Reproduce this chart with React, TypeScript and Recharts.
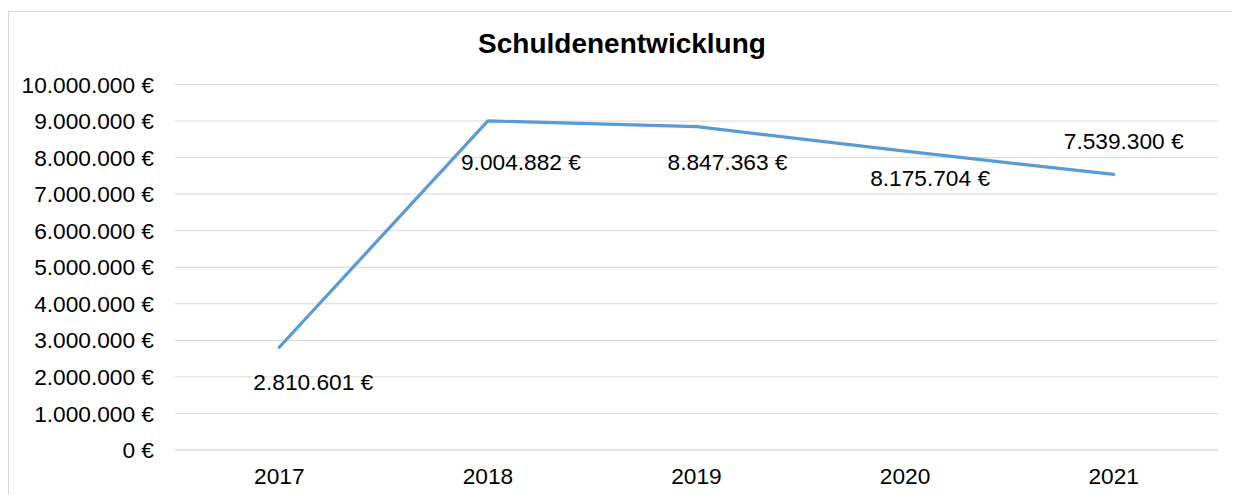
import React from 'react';
import { LineChart, Line, XAxis, YAxis, CartesianGrid, LabelList } from 'recharts';

const years = ['2017', '2018', '2019', '2020', '2021'];
const debt = [2810601, 9004882, 8847363, 8175704, 7539300];
const yTicks = [0, 1000000, 2000000, 3000000, 4000000, 5000000, 6000000, 7000000, 8000000, 9000000, 10000000];
const title = 'Schuldenentwicklung';

// label placement relative to each point (layout, not data)
const labelOffsets: [number, number][] = [
  [34, 35],
  [33, 41],
  [31, 35],
  [25, 27],
  [10, -33],
];

const data = years.map((y, i) => ({ year: y, value: debt[i] }));

const FONT = '"Liberation Sans", Arial, sans-serif';
const fmt = (v: number) => v.toLocaleString('de-DE') + ' €';

const renderLabel = (props: any) => {
  const { x, y, index, value } = props;
  const [dx, dy] = labelOffsets[index] || [0, 0];
  return (
    <text
      x={x + dx}
      y={y + dy}
      textAnchor="middle"
      dominantBaseline="central"
      fontFamily={FONT}
      fontSize={22.7}
      fill="#000"
    >
      {fmt(Number(value))}
    </text>
  );
};

export default function App() {
  return (
    <div style={{ paddingTop: 3 }}>
      <div
        style={{
          position: 'relative',
          width: 1227,
          height: 490,
          border: '1px solid #d9d9d9',
          background: '#fff',
        }}
      >
        <svg
          width={1227}
          height={70}
          style={{ position: 'absolute', left: 0, top: 0 }}
        >
          <text
            x={613}
            y={41}
            textAnchor="middle"
            fontFamily={FONT}
            fontSize={28}
            fontWeight="bold"
            fill="#000"
          >
            {title}
          </text>
        </svg>
        <LineChart
          width={1227}
          height={483}
          data={data}
          margin={{ top: 72.5, right: 18, bottom: 0, left: 0 }}
        >
          <CartesianGrid vertical={false} stroke="#d9d9d9" strokeWidth={1} />
          <XAxis
            dataKey="year"
            scale="band"
            axisLine={{ stroke: '#d9d9d9' }}
            tickLine={false}
            tickSize={6}
            tickMargin={12}
            height={45}
            tick={{ fontFamily: FONT, fontSize: 22.7, fill: '#000' }}
          />
          <YAxis
            domain={[0, 10000000]}
            ticks={yTicks}
            interval={0}
            axisLine={false}
            tickLine={false}
            tickSize={6}
            tickMargin={15}
            width={166}
            tickFormatter={(v: number) => fmt(v)}
            tick={{ fontFamily: FONT, fontSize: 22.7, fill: '#000' }}
          />
          <Line
            type="linear"
            dataKey="value"
            stroke="#5b9bd5"
            strokeWidth={3.2}
            strokeLinecap="round"
            strokeLinejoin="round"
            dot={false}
            activeDot={false}
            isAnimationActive={false}
          >
            <LabelList dataKey="value" content={renderLabel} />
          </Line>
        </LineChart>
      </div>
    </div>
  );
}
